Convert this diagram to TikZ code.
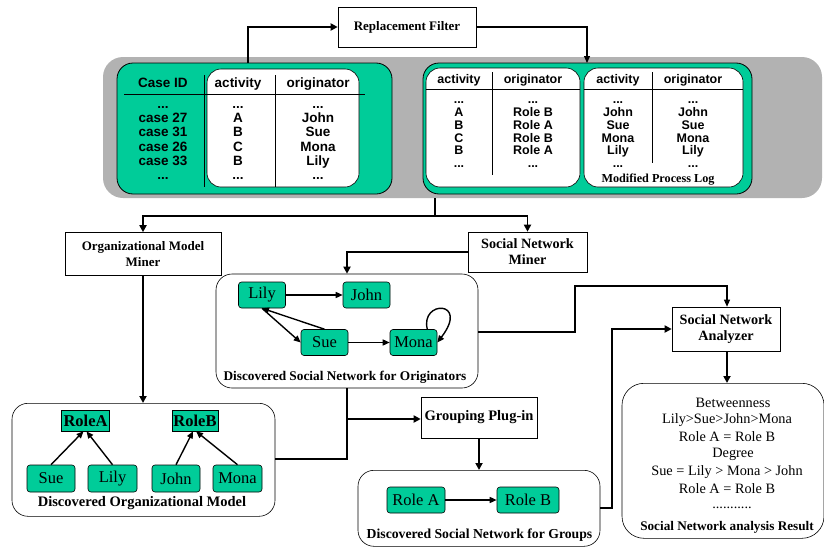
\documentclass[tikz,border=0pt]{standalone}
\usepackage{fontspec}
\setmainfont{Liberation Serif}
\newfontfamily\arialfont{Liberation Sans}
\usetikzlibrary{arrows.meta,calc}
\definecolor{seagreen}{RGB}{0,204,153}
\definecolor{loggray}{RGB}{178,178,178}
\newcommand\tdots{...}
\tikzset{
  procbox/.style={draw, fill=white, line width=0.6pt, align=center, inner sep=0pt,
    font=\fontsize{13}{16}\selectfont\bfseries},
  gnode/.style={draw, fill=seagreen, rounded corners=3pt, line width=0.6pt,
    minimum width=47pt, minimum height=26pt, inner sep=0pt,
    font=\fontsize{16.5}{16.5}\selectfont},
  rolebox/.style={draw, fill=seagreen, line width=0.6pt, minimum width=48pt,
    minimum height=21pt, inner sep=0pt, font=\fontsize{16.5}{16.5}\selectfont\bfseries},
  panel/.style={draw, fill=white, rounded corners=16pt, line width=0.6pt,
    inner sep=0pt},
  flow/.style={line width=1.8pt, -{Triangle[length=7pt,width=7pt]}},
  link/.style={line width=1.4pt, -{Triangle[length=7pt,width=6pt]}},
  tcell/.style={font=\arialfont\fontsize{13.5}{13.5}\selectfont\bfseries, inner sep=0pt,
    text height=9.5pt, text depth=2.5pt},
  rcell/.style={font=\arialfont\fontsize{12.5}{12.5}\selectfont\bfseries, inner sep=0pt,
    text height=9pt, text depth=2pt},
  caption/.style={font=\fontsize{#1}{#1}\selectfont\bfseries, inner sep=0pt},
  caption/.default=13.5,
}
\begin{document}
\begin{tikzpicture}[x=1pt, y=-1pt]
\useasboundingbox (0,0) rectangle (824,546);

% ---------- process log block ----------
\fill[loggray, rounded corners=20pt] (103,57) rectangle (822,198);
\node[draw, fill=seagreen, rounded corners=16pt, line width=0.8pt, inner sep=0pt,
  minimum width=275pt, minimum height=131pt] (orig) at (254.5,128.5) {};
\node[draw, fill=seagreen, rounded corners=16pt, line width=0.8pt, inner sep=0pt,
  minimum width=329pt, minimum height=131pt] (mod) at (587.5,128.5) {};

% original log
\node[draw, fill=white, rounded corners=14pt, line width=0.6pt, inner sep=0pt,
  minimum width=152pt, minimum height=118pt] (olog) at (283,128) {};
\draw[line width=0.8pt] (124,94) -- (365,94);
\draw[line width=0.8pt] (204,75) -- (204,187);
\draw[line width=0.8pt] (275,75) -- (275,187);
\node[tcell] (hcase) at (163,84) {Case ID};
\node[tcell] (hact) at (238,84) {activity};
\node[tcell] (horig) at (318,84) {originator};
\foreach \y/\c/\a/\o in {105/\tdots/\tdots/\tdots, 118.5/case 27/A/John, 133/case 31/B/Sue,
  147.5/case 26/C/Mona, 162/case 33/B/Lily, 176/\tdots/\tdots/\tdots}{
  \node[tcell] at (163,\y) {\c};
  \node[tcell] at (238,\y) {\a};
  \node[tcell] at (318,\y) {\o};
}

% modified log: roles table and originators table
\node[draw, fill=white, rounded corners=14pt, line width=0.6pt, inner sep=0pt,
  minimum width=154pt, minimum height=119pt] (rtab) at (503,127.5) {};
\node[draw, fill=white, rounded corners=14pt, line width=0.6pt, inner sep=0pt,
  minimum width=159pt, minimum height=119pt] (otab) at (663.5,127.5) {};
\draw[line width=0.8pt] (rtab.west |- 0,89) -- (rtab.east |- 0,89);
\draw[line width=0.8pt] (otab.west |- 0,89) -- (otab.east |- 0,89);
\draw[line width=0.8pt] (492,72) -- (492,175);
\draw[line width=0.8pt] (652,72) -- (652,163);
\foreach \x/\t in {459/activity, 533/originator, 618/activity, 693/originator}{
  \node[rcell] at (\x,80) {\t};
}
\foreach \y/\a/\r/\n in {100/\tdots/\tdots/\tdots, 113/A/Role B/John, 126/B/Role A/Sue,
  138.5/C/Role B/Mona, 151/B/Role A/Lily, 164/\tdots/\tdots/\tdots}{
  \node[rcell] at (459,\y) {\a};
  \node[rcell] at (533,\y) {\r};
  \node[rcell] at (618,\y) {\n};
  \node[rcell] at (693,\y) {\n};
}
\node[caption=12.2] (mlab) at (658,180) {Modified Process Log};

% ---------- replacement filter ----------
\node[procbox, minimum width=138pt, minimum height=40pt] (filter) at (407,27)
  {Replacement Filter};
\coordinate (origtop) at (248,63);
\coordinate (modtop) at (587,63);
\draw[flow] (origtop) |- (filter.west);
\draw[line width=1.2pt, -{Triangle[length=7pt,width=6pt]}] (filter.east) -| (modtop);

% ---------- miners ----------
\node[procbox, minimum width=156pt, minimum height=43pt] (orgminer) at (143,254)
  {Organizational Model\\Miner};
\node[procbox, font=\fontsize{14.2}{16}\selectfont\bfseries, minimum width=119pt,
  minimum height=40pt] (snminer) at (527.5,252) {Social Network\\Miner};
\coordinate (split) at (435,216);
\coordinate (logbottom) at (435,198);
\draw[line width=1.8pt] (logbottom) -- (split);
\draw[flow] (split) -| (orgminer.north);
\draw[flow] (split) -| (snminer.north);

% ---------- discovered social network for originators ----------
\node[panel, minimum width=262pt, minimum height=114pt] (snbox) at (347,331) {};
\node[gnode] (lily) at (262,295) {Lily};
\node[gnode] (john) at (366.5,295) {John};
\node[gnode] (sue) at (324.5,342.5) {Sue};
\node[gnode] (mona) at (413.5,342.5) {Mona};
\node[caption=13.3] (snlab) at (345,377) {Discovered Social Network for Originators};
\draw[link] (lily) -- (john);
\draw[link] (lily.south) -- (sue.west);
\draw[link] (sue.north) -- (lily.south);
\draw[link] (sue) -- (mona);
\draw[link] ($(mona.north east)+(-10,0)$) coordinate (loopstart)
  .. controls (420,300) and (470,300) .. (mona.east);
\draw[flow] (snminer.west) -| (snbox.north);

% ---------- discovered organizational model ----------
\node[panel, minimum width=263pt, minimum height=113pt, anchor=north] (ombox)
  at (143.5,403) {};
\draw[flow] (orgminer.south) -- (ombox.north -| orgminer.south);
\node[rolebox] (rolea) at (85.5,420.5) {RoleA};
\node[rolebox, minimum width=46pt] (roleb) at (195,420.5) {RoleB};
\node[gnode, minimum width=48pt, minimum height=27pt] (osue) at (51,478.5) {Sue};
\node[gnode, minimum width=49pt, minimum height=27pt] (olily) at (112.5,478.5) {Lily};
\node[gnode, minimum width=48pt, minimum height=27pt] (ojohn) at (176,478.5) {John};
\node[gnode, minimum width=49pt, minimum height=27pt] (omona) at (237.5,478.5) {Mona};
\node[caption=14.5] (omlab) at (142,503) {Discovered Organizational Model};
\draw[link] (osue.north) -- ($(rolea.south)+(-2,0)$);
\draw[link] (olily.north) -- ($(rolea.south)+(1,0)$);
\draw[link] (ojohn.north) -- ($(roleb.south)+(-2,0)$);
\draw[link] (omona.north) -- ($(roleb.south)+(1,0)$);

% ---------- grouping plug-in ----------
\node[procbox, font=\fontsize{14.5}{16}\selectfont\bfseries, minimum width=116pt,
  minimum height=41pt] (group) at (479,417.5) {Grouping Plug-in};
\coordinate (join) at (347,419);
\draw[line width=1.8pt] (snbox.south) -- (join);
\draw[line width=1.8pt] (ombox.east |- 0,459) -| (join);
\draw[flow] (join) -- (group.west |- join);

% ---------- discovered social network for groups ----------
\node[panel, minimum width=242pt, minimum height=76pt, anchor=north] (grbox)
  at (479,470) {};
\node[gnode, minimum width=58pt] (grolea) at (416,500) {Role A};
\node[gnode, minimum width=62pt] (groleb) at (528,500) {Role B};
\node[caption=13.7] (grlab) at (479.5,535) {Discovered Social Network for Groups};
\draw[link] (grolea) -- (groleb);
\draw[flow] (group.south) -- (grbox.north);

% ---------- social network analyzer ----------
\node[procbox, font=\fontsize{14.2}{16}\selectfont\bfseries, minimum width=108pt,
  minimum height=44pt] (analyzer) at (726,329) {Social Network\\Analyzer};
\coordinate (bend1) at (575,332);
\coordinate (bend2) at (727,286);
\draw[line width=1.2pt, -{Triangle[length=7pt,width=6pt]}]
  (snbox.east |- bend1) -- (bend1) |- (bend2) -- (analyzer.north -| bend2);
\coordinate (rise) at (612,329);
\draw[flow] (grbox.east |- 0,508) -| (rise) -- (analyzer.west);

% ---------- analysis result ----------
\node[panel, rounded corners=22pt, minimum width=202pt, minimum height=155pt,
  anchor=north] (result) at (723,383) {};
\draw[flow] (analyzer.south -| bend2) -- (result.north -| bend2);
\begin{scope}[every node/.style={inner sep=0pt, font=\fontsize{14.3}{14.3}\selectfont}]
  \node (r1) at (733,403) {Betweenness};
  \node (r2) at (727,420) {Lily>Sue>John>Mona};
  \node (r3) at (727,437) {Role A = Role B};
  \node (r4) at (733,454) {Degree};
  \node (r5) at (727,472) {Sue = Lily > Mona > John};
  \node (r6) at (727,489) {Role A = Role B};
  \node (r7) at (732,508) {...........};
\end{scope}
\node[caption=13.2] (rlab) at (727,527) {Social Network analysis Result};
\end{tikzpicture}
\end{document}
